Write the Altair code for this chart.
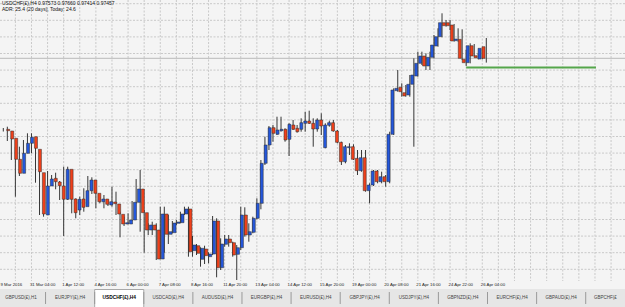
import altair as alt
import pandas as pd

# ---------------- data (USDCHF(£), H4) ----------------
opens = [0.96747, 0.96730, 0.96657, 0.96447, 0.96307, 0.96507, 0.96607, 0.96673, 0.96547, 0.96313,
         0.95890, 0.96180, 0.96257, 0.96220, 0.96180, 0.96047, 0.96347, 0.96050, 0.95940, 0.96050,
         0.95973, 0.96133, 0.96240, 0.96107, 0.96023, 0.96050, 0.95990, 0.96020, 0.96000, 0.95897,
         0.95800, 0.95800, 0.95840, 0.96017, 0.96150, 0.95913, 0.95740, 0.95790, 0.95740, 0.95450,
         0.95900, 0.95697, 0.95713, 0.95807, 0.95813, 0.95900, 0.95950, 0.95533, 0.95583, 0.95447,
         0.95550, 0.95473, 0.95500, 0.95830, 0.95363, 0.95597, 0.95650, 0.95613, 0.95497, 0.95563,
         0.95890, 0.95690, 0.95717, 0.95857, 0.96007, 0.96407, 0.96590, 0.96763, 0.96697, 0.96733,
         0.96747, 0.96647, 0.96790, 0.96757, 0.96747, 0.96807, 0.96830, 0.96807, 0.96750, 0.96840,
         0.96563, 0.96787, 0.96813, 0.96730, 0.96617, 0.96423, 0.96563, 0.96573, 0.96457, 0.96333,
         0.96463, 0.96133, 0.96190, 0.96330, 0.96223, 0.96273, 0.96223, 0.96697, 0.97133, 0.97167,
         0.97113, 0.97090, 0.97197, 0.97280, 0.97407, 0.97480, 0.97380, 0.97467, 0.97580, 0.97673,
         0.97813, 0.97813, 0.97790, 0.97633, 0.97647, 0.97447, 0.97413, 0.97583, 0.97483, 0.97450,
         0.97573]
highs = [0.96760, 0.96773, 0.96667, 0.96573, 0.96573, 0.96640, 0.96707, 0.96707, 0.96607, 0.96373,
         0.96207, 0.96330, 0.96290, 0.96313, 0.96230, 0.96373, 0.96373, 0.96073, 0.96057, 0.96073,
         0.96157, 0.96280, 0.96267, 0.96123, 0.96073, 0.96090, 0.96040, 0.96173, 0.96123, 0.95923,
         0.95873, 0.95907, 0.96030, 0.96250, 0.96340, 0.95940, 0.95807, 0.95823, 0.95807, 0.95973,
         0.95973, 0.95890, 0.95830, 0.95840, 0.95923, 0.95973, 0.95973, 0.95680, 0.95600, 0.95567,
         0.95583, 0.95517, 0.95880, 0.95857, 0.95657, 0.95690, 0.95690, 0.95623, 0.95590, 0.95973,
         0.95967, 0.95807, 0.95873, 0.96057, 0.96440, 0.96673, 0.96780, 0.96790, 0.96873, 0.96873,
         0.96757, 0.96807, 0.96840, 0.96790, 0.96857, 0.96923, 0.96933, 0.96857, 0.96857, 0.96907,
         0.96807, 0.96833, 0.96840, 0.96740, 0.96623, 0.96590, 0.96607, 0.96597, 0.96540, 0.96540,
         0.96540, 0.96207, 0.96340, 0.96340, 0.96323, 0.96290, 0.96723, 0.97157, 0.97340, 0.97207,
         0.97190, 0.97290, 0.97457, 0.97523, 0.97523, 0.97507, 0.97523, 0.97690, 0.97757, 0.97907,
         0.97840, 0.97840, 0.97800, 0.97757, 0.97747, 0.97540, 0.97607, 0.97600, 0.97507, 0.97563,
         0.97660]
lows = [0.96725, 0.96630, 0.96440, 0.96073, 0.96280, 0.96490, 0.96507, 0.96507, 0.96213, 0.95890,
        0.95873, 0.96140, 0.96207, 0.96147, 0.96040, 0.95680, 0.96040, 0.95907, 0.95857, 0.95890,
        0.95923, 0.96107, 0.96100, 0.95957, 0.96007, 0.95957, 0.95980, 0.95973, 0.95890, 0.95667,
        0.95780, 0.95797, 0.95833, 0.96007, 0.95723, 0.95513, 0.95690, 0.95690, 0.95440, 0.95447,
        0.95513, 0.95600, 0.95707, 0.95790, 0.95807, 0.95890, 0.95473, 0.95473, 0.95490, 0.95373,
        0.95400, 0.95407, 0.95490, 0.95267, 0.95340, 0.95573, 0.95573, 0.95473, 0.95240, 0.95540,
        0.95673, 0.95623, 0.95707, 0.95847, 0.95947, 0.96390, 0.96540, 0.96623, 0.96690, 0.96723,
        0.96623, 0.96480, 0.96740, 0.96713, 0.96723, 0.96723, 0.96800, 0.96573, 0.96723, 0.96690,
        0.96557, 0.96773, 0.96723, 0.96607, 0.96390, 0.96407, 0.96490, 0.96440, 0.96290, 0.96323,
        0.96123, 0.96007, 0.96180, 0.96207, 0.96207, 0.96173, 0.96207, 0.96690, 0.97123, 0.97073,
        0.97073, 0.97073, 0.96573, 0.97273, 0.97390, 0.97340, 0.97340, 0.97457, 0.97573, 0.97667,
        0.97773, 0.97740, 0.97623, 0.97623, 0.97440, 0.97380, 0.97407, 0.97473, 0.97447, 0.97447,
        0.97414]
closes = [0.96733, 0.96650, 0.96447, 0.96307, 0.96507, 0.96607, 0.96667, 0.96557, 0.96323, 0.95900,
          0.96180, 0.96250, 0.96223, 0.96183, 0.96047, 0.96347, 0.96047, 0.95913, 0.96047, 0.95967,
          0.96133, 0.96240, 0.96107, 0.96023, 0.96050, 0.95997, 0.96023, 0.96003, 0.95900, 0.95800,
          0.95813, 0.95840, 0.96017, 0.96150, 0.95913, 0.95740, 0.95790, 0.95740, 0.95450, 0.95900,
          0.95697, 0.95723, 0.95810, 0.95820, 0.95900, 0.95950, 0.95523, 0.95590, 0.95507, 0.95557,
          0.95483, 0.95500, 0.95830, 0.95363, 0.95600, 0.95650, 0.95613, 0.95490, 0.95563, 0.95890,
          0.95690, 0.95723, 0.95857, 0.96007, 0.96407, 0.96590, 0.96763, 0.96707, 0.96740, 0.96747,
          0.96640, 0.96797, 0.96747, 0.96723, 0.96813, 0.96830, 0.96807, 0.96750, 0.96840, 0.96780,
          0.96790, 0.96813, 0.96730, 0.96617, 0.96423, 0.96573, 0.96573, 0.96447, 0.96333, 0.96463,
          0.96133, 0.96190, 0.96330, 0.96223, 0.96273, 0.96223, 0.96697, 0.97140, 0.97157, 0.97123,
          0.97080, 0.97197, 0.97290, 0.97407, 0.97480, 0.97380, 0.97467, 0.97590, 0.97673, 0.97813,
          0.97783, 0.97783, 0.97630, 0.97650, 0.97457, 0.97413, 0.97583, 0.97480, 0.97463, 0.97557,
          0.97457]

first_time_label = "9 Mar 2016"
time_labels = ["31 Mar 04:00", "1 Apr 12:00", "4 Apr 16:00", "6 Apr 00:00",
               "7 Apr 08:00", "8 Apr 16:00", "11 Apr 20:00", "13 Apr 04:00", "14 Apr 12:00",
               "15 Apr 20:00", "19 Apr 00:00", "20 Apr 08:00", "21 Apr 16:00", "24 Apr 22:00",
               "26 Apr 04:00"]

header_line1 = "USDCHF(£),H4  0.97573 0.97660 0.97414 0.97457"
header_line2 = "ADR: 25.4 (20 days), Today: 24.6"

tab_names = ["GBPUSD(£),H1", "EURJPY(£),H4", "USDCHF(£),H4", "USDCAD(£),H4", "AUDUSD(£),H4",
             "EURGBP(£),H4", "EURUSD(£),H4", "GBPJPY(£),H4", "USDJPY(£),H4", "GBPNZD(£),H4",
             "EURCHF(£),H4", "GBPAUD(£),H4", "GBPCHF(£"]
active_tab = "USDCHF(£),H4"

support_start_bar = 115
support_end_bar = 147.25
support_level = 0.97365

# ---------------- frames ----------------
n = len(opens)
candles = pd.DataFrame({
    "bar": list(range(n)), "open": opens, "high": highs, "low": lows, "close": closes,
})
candles["dir"] = ["up" if c >= o else "down" for o, c in zip(opens, closes)]

bid = pd.DataFrame({"price": [closes[-1]]})
support = pd.DataFrame({"start": [support_start_bar], "end": [support_end_bar], "level": [support_level]})

grid_levels = pd.DataFrame({"price": [round(0.98003 - 0.00166 * k, 5) for k in range(17)]})
grid_bars = pd.DataFrame({"bar": list(range(-1, 155, 4))})
labels_df = pd.DataFrame({"bar": [7 + 8 * k for k in range(len(time_labels))], "label": time_labels})
first_df = pd.DataFrame({"label": [first_time_label]})
header_df = pd.DataFrame({"t1": [header_line1], "t2": [header_line2]})
tabs_df = pd.DataFrame({"k": list(range(len(tab_names))), "name": tab_names})
tabs_df["active"] = tabs_df["name"] == active_tab
seps_df = pd.DataFrame({"k": [k + 0.5 for k in range(len(tab_names) - 1)]})

# ---------------- scales / styles ----------------
W, H = 625, 307
PLOT_BOTTOM = 281
xs = alt.Scale(domain=[-0.82, 154.46], nice=False, zero=False)
ys = alt.Scale(domain=[0.9497, 0.9804], nice=False, zero=False)
ts = alt.Scale(domain=[-0.4277, 12.3], nice=False, zero=False)
FONT = "Liberation Sans"
GRID = "#c9c9c9"

hgrid = alt.Chart(grid_levels).mark_rule(color=GRID, strokeDash=[2, 1.5], strokeWidth=1).encode(
    y=alt.Y("price:Q", scale=ys, axis=None), x=alt.value(0), x2=alt.value(W))
vgrid = alt.Chart(grid_bars).mark_rule(color=GRID, strokeDash=[2, 1.5], strokeWidth=1).encode(
    x=alt.X("bar:Q", scale=xs, axis=None), y=alt.value(0), y2=alt.value(PLOT_BOTTOM))
bidline = alt.Chart(bid).mark_rule(color="#b9b9b9", strokeWidth=1).encode(
    y=alt.Y("price:Q", scale=ys, axis=None), x=alt.value(0), x2=alt.value(W))
wicks = alt.Chart(candles).mark_rule(color="#363636", strokeWidth=1).encode(
    x=alt.X("bar:Q", scale=xs, axis=None),
    y=alt.Y("low:Q", scale=ys, axis=None), y2="high:Q")
bodies = alt.Chart(candles).mark_bar(size=3, stroke="#2a2a2a", strokeWidth=0.5).encode(
    x=alt.X("bar:Q", scale=xs, axis=None),
    y=alt.Y("open:Q", scale=ys, axis=None), y2="close:Q",
    color=alt.Color("dir:N", scale=alt.Scale(domain=["up", "down"], range=["#2457dc", "#f0401a"]),
                    legend=None))
green = alt.Chart(support).mark_rule(color="#55a64b", strokeWidth=2).encode(
    x=alt.X("start:Q", scale=xs, axis=None), x2="end:Q",
    y=alt.Y("level:Q", scale=ys, axis=None))

label_text = alt.Chart(labels_df).mark_text(align="left", baseline="middle", dx=-1.5, font=FONT,
                                            fontSize=4.3, color="#222222").encode(
    x=alt.X("bar:Q", scale=xs, axis=None), y=alt.value(284.5), text="label:N")
first_label = alt.Chart(first_df).mark_text(align="left", baseline="middle", font=FONT,
                                            fontSize=4.3, color="#222222").encode(
    x=alt.value(0.5), y=alt.value(284.5), text="label:N")

header1 = alt.Chart(header_df).mark_text(align="left", baseline="middle", font=FONT, fontSize=5,
                                         color="#111111").encode(
    x=alt.value(2), y=alt.value(3), text="t1:N")
header2 = alt.Chart(header_df).mark_text(align="left", baseline="middle", font=FONT, fontSize=5,
                                         color="#111111").encode(
    x=alt.value(2), y=alt.value(8.5), text="t2:N")

tab_band = alt.Chart(tabs_df).mark_rect(color="#e6e6e6").encode(
    x=alt.value(0), x2=alt.value(W), y=alt.value(289), y2=alt.value(H))
tab_active = alt.Chart(tabs_df).transform_filter("datum.active").transform_calculate(
    k0="datum.k - 0.5", k1="datum.k + 0.5").mark_rect(color="#ffffff", stroke="#a8a8a8",
                                                       strokeWidth=1).encode(
    x=alt.X("k0:Q", scale=ts, axis=None), x2="k1:Q", y=alt.value(289.5), y2=alt.value(H + 1))
tab_seps = alt.Chart(seps_df).mark_rule(color="#9a9a9a", strokeWidth=1).encode(
    x=alt.X("k:Q", scale=ts, axis=None), y=alt.value(292), y2=alt.value(304))
tab_text = alt.Chart(tabs_df).transform_filter("!datum.active && datum.k < 12").mark_text(
    baseline="middle", font=FONT, fontSize=4.5, color="#444444").encode(
    x=alt.X("k:Q", scale=ts, axis=None), y=alt.value(298), text="name:N")
tab_text_last = alt.Chart(tabs_df).transform_filter("datum.k >= 12").mark_text(
    align="left", baseline="middle", font=FONT, fontSize=4.5, color="#444444").encode(
    x=alt.value(594), y=alt.value(298), text="name:N")
tab_text_active = alt.Chart(tabs_df).transform_filter("datum.active").mark_text(
    baseline="middle", font=FONT, fontSize=4.8, fontWeight="bold", color="#000000").encode(
    x=alt.X("k:Q", scale=ts, axis=None), y=alt.value(298), text="name:N")

chart = alt.layer(
    hgrid, vgrid, bidline, wicks, bodies, green, label_text, first_label, header1, header2,
    tab_band, tab_active, tab_seps, tab_text, tab_text_last, tab_text_active
).resolve_scale(x="independent", y="independent").properties(
    width=W, height=H, padding=0, autosize=alt.AutoSizeParams(type="none"),
    background="#f4f4f4"
).configure_view(stroke=None)

chart.save("out.html", embed_options={"renderer": "svg", "actions": False})
